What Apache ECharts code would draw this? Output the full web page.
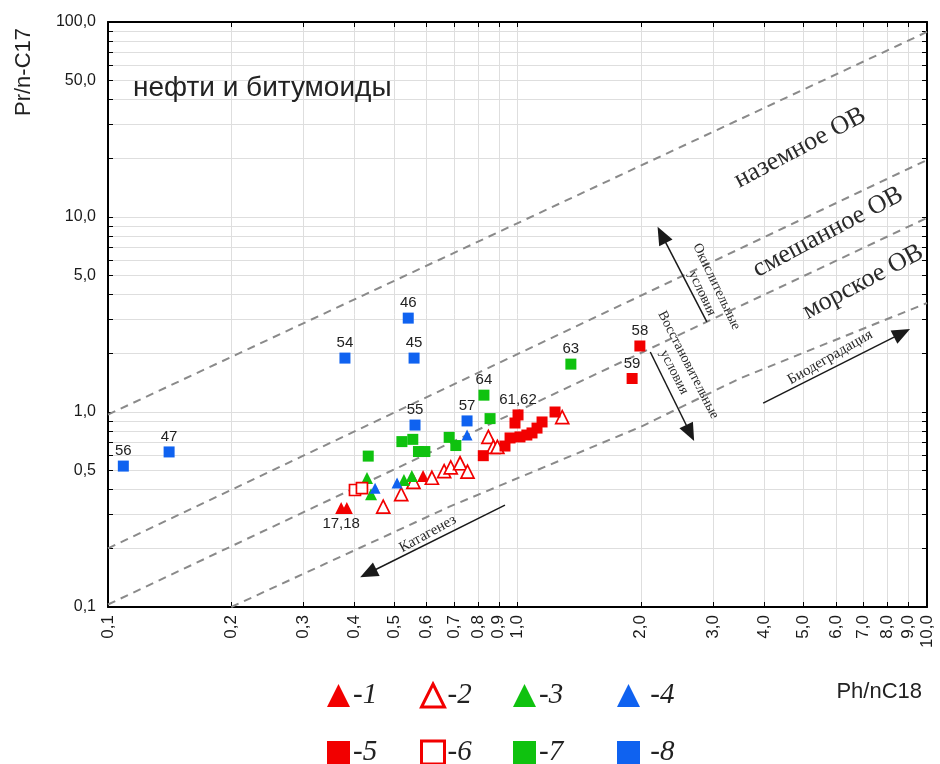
<!DOCTYPE html>
<html><head><meta charset="utf-8">
<script src="https://cdn.jsdelivr.net/npm/echarts@6/dist/echarts.min.js"></script>
<style>html,body{margin:0;padding:0;background:#fff}#c{width:940px;height:764px}</style>
</head><body><div id="c"></div>
<script>
// ---- tick labels ----
const xLabelVals = [0.1,0.2,0.3,0.4,0.5,0.6,0.7,0.8,0.9,1,2,3,4,5,6,7,8,9,10];
const yLabelVals = [0.1,0.5,1,5,10,50,100];
const xTickVals = [0.1,0.2,0.3,0.4,0.5,0.6,0.7,0.8,0.9,1,2,3,4,5,6,7,8,9,10];
const yTickVals = [0.1,0.2,0.3,0.4,0.5,0.6,0.7,0.8,0.9,1,2,3,4,5,6,7,8,9,10,20,30,40,50,60,70,80,90,100];

// ---- series (Ph/nC18, Pr/n-C17) ----
const seriesNames = ['-1','-2','-3','-4','-5','-6','-7','-8'];
const s1 = [[0.371,0.322],[0.383,0.322],[0.588,0.47]];
const s1Labels = ['17,18','',''];
const s2 = [[0.47,0.327],[0.52,0.379],[0.557,0.438],[0.618,0.46],[0.662,0.497],[0.687,0.52],[0.724,0.546],[0.755,0.494],[0.849,0.745],[0.873,0.662],[0.893,0.662],[1.286,0.942]];
const s3 = [[0.429,0.459],[0.439,0.379],[0.528,0.448],[0.552,0.47]];
const s4 = [[0.449,0.407],[0.508,0.433],[0.753,0.762]];
const s5 = [[0.825,0.597],[0.932,0.669],[0.959,0.736],[0.986,0.878],[1.003,0.966],[1.014,0.745],[1.054,0.762],[1.085,0.781],[1.116,0.827],[1.148,0.889],[1.235,1.0],[1.99,2.18],[1.905,1.485]];
const s5Labels = ['','','','','61,62','','','','','','','58','59'];
const s6 = [[0.401,0.398],[0.417,0.407]];
const s7 = [[0.432,0.594],[0.522,0.705],[0.555,0.724],[0.573,0.627],[0.594,0.627],[0.681,0.741],[0.707,0.673],[0.828,1.22],[0.857,0.925],[1.35,1.76]];
const s7Labels = ['','','','','','','','64','','63'];
const s8 = [[0.109,0.528],[0.141,0.624],[0.379,1.89],[0.541,3.03],[0.559,1.89],[0.562,0.857],[0.753,0.9]];
const s8Labels = ['56','47','54','46','45','55','57'];

// ---- boundary lines ----
const lineA = [[0.1,0.97],[10,89]];
const lineB = [[0.1,0.2],[10,19.6]];
const lineC = [[0.1,0.103],[10,9.9]];
const lineD = [[0.2,0.1],[0.68,0.326],[2.0,0.84],[3.5,1.49],[10,3.62]];

// ---- arrows (start, end) ----
const arrowOx = [[2.9,2.9],[2.25,8.1]];
const arrowRed = [[2.11,2.03],[2.64,0.78]];
const arrowBio = [[3.98,1.11],[8.69,2.54]];
const arrowKat = [[0.932,0.333],[0.432,0.149]];

const RED = '#f20000', GREEN = '#0fc20f', BLUE = '#0f62f0';
const fmt = v => (Math.round(v*10)/10).toFixed(1).replace('.', ',');
const SANS = '"Liberation Sans", Arial, sans-serif';
const SERIF = '"Liberation Serif", "Times New Roman", serif';

function pts(arr, labels, pos) {
  return arr.map((p, i) => {
    const o = {value: p};
    if (labels && labels[i]) {
      o.label = {show: true, formatter: labels[i], position: pos || 'top', distance: 2,
        fontFamily: SANS, fontSize: 15, color: '#222'};
    }
    return o;
  });
}

const chart = echarts.init(document.getElementById('c'), null, {renderer: 'canvas'});

function scat(name, data, symbol, size, color, hollow) {
  return {
    name, type: 'scatter', data, symbol, symbolSize: size, z: 5,
    itemStyle: hollow ? {color: '#fff', borderColor: color, borderWidth: 1.7, opacity: 1} : {color, opacity: 1},
    emphasis: {disabled: true}
  };
}
function dash(data, extra) {
  return Object.assign({
    type: 'line', data, showSymbol: false, symbol: 'none', silent: true, z: 3,
    lineStyle: {color: '#8a8a8a', width: 2, type: [8, 6]}
  }, extra || {});
}

const axisCommon = {
  type: 'log', logBase: 10,
  axisLine: {show: true, lineStyle: {color: '#000', width: 2}},
};

const legendLeft = [327, 420, 513, 617];
const legendTop = [681, 738];
const legendIcons = ['triangle','triangle','triangle','triangle','rect','rect','rect','rect'];
const legendColors = [RED, RED, GREEN, BLUE, RED, RED, GREEN, BLUE];
const legendHollow = [false, true, false, false, false, true, false, false];
const legends = seriesNames.map((n, i) => ({
  data: [n], left: legendLeft[i % 4], top: legendTop[Math.floor(i / 4)],
  icon: legendIcons[i], itemWidth: 23, itemHeight: 23, padding: 0, itemGap: 0,
  selectedMode: false,
  formatter: (i % 4 === 3) ? (nm => '\u00a0' + nm) : (nm => nm),
  itemStyle: legendHollow[i] ? {color: '#fff', borderColor: legendColors[i], borderWidth: 3}
                             : {color: legendColors[i], borderWidth: 0, opacity: 1},
  textStyle: {fontFamily: SERIF, fontStyle: 'italic', fontSize: 29, color: '#222', lineHeight: 23, padding: [0,0,0,-2]}
}));

const option = {
  animation: false,
  backgroundColor: '#fff',
  grid: {left: 108, right: 13, top: 22, bottom: 157},
  legend: legends,
  xAxis: [
    Object.assign({}, axisCommon, {
      min: 0.1, max: 10, position: 'bottom',
      axisTick: {show: true, inside: true, length: 5, customValues: xTickVals, lineStyle: {color: '#000'}},
      axisLabel: {show: true, customValues: xLabelVals, rotate: 90, margin: 8, formatter: fmt,
        fontFamily: SANS, fontSize: 17, color: '#1a1a1a'},
      splitLine: {show: true, lineStyle: {color: '#dedede', width: 1}}
    }),
    Object.assign({}, axisCommon, {
      min: 0.1, max: 10, position: 'top',
      axisTick: {show: true, inside: true, length: 5, customValues: xTickVals, lineStyle: {color: '#000'}},
      axisLabel: {show: false}, splitLine: {show: false}
    })
  ],
  yAxis: [
    Object.assign({}, axisCommon, {
      min: 0.1, max: 100, position: 'left',
      axisTick: {show: true, inside: true, length: 5, customValues: yTickVals, lineStyle: {color: '#000'}},
      axisLabel: {show: true, customValues: yLabelVals, margin: 12, formatter: fmt,
        fontFamily: SANS, fontSize: 16, color: '#1a1a1a'},
      splitLine: {show: true, lineStyle: {color: '#dedede', width: 1}}
    }),
    Object.assign({}, axisCommon, {
      min: 0.1, max: 100, position: 'right',
      axisTick: {show: true, inside: true, length: 5, customValues: yTickVals, lineStyle: {color: '#000'}},
      axisLabel: {show: false}, splitLine: {show: false}
    })
  ],
  series: [
    dash(lineA, {
      markLine: {
        silent: true, animation: false, symbol: ['none', 'triangle'], symbolSize: [15, 18],
        label: {show: false},
        lineStyle: {color: '#1a1a1a', width: 1.5, type: 'solid'},
        data: [
          [{coord: arrowOx[0]}, {coord: arrowOx[1]}],
          [{coord: arrowRed[0]}, {coord: arrowRed[1]}],
          [{coord: arrowBio[0]}, {coord: arrowBio[1]}],
          [{coord: arrowKat[0]}, {coord: arrowKat[1]}]
        ]
      }
    }),
    dash(lineB), dash(lineC), dash(lineD),
    scat(seriesNames[0], pts(s1, s1Labels, 'bottom'), 'triangle', 12, RED, false),
    scat(seriesNames[1], pts(s2), 'triangle', 13, RED, true),
    scat(seriesNames[2], pts(s3), 'triangle', 12, GREEN, false),
    scat(seriesNames[3], pts(s4), 'triangle', 11, BLUE, false),
    scat(seriesNames[4], pts(s5, s5Labels), 'rect', 11, RED, false),
    scat(seriesNames[5], pts(s6), 'rect', 11, RED, true),
    scat(seriesNames[6], pts(s7, s7Labels), 'rect', 11, GREEN, false),
    scat(seriesNames[7], pts(s8, s8Labels), 'rect', 11, BLUE, false)
  ]
};
chart.setOption(option);

// ---- annotation texts anchored in data coordinates ----
const annos = [
  {t: 'наземное ОВ', at: [4.9, 22.6], rot: 28, font: '26px ' + SERIF},
  {t: 'смешанное ОВ', at: [5.73, 8.37], rot: 28, font: '26px ' + SERIF},
  {t: 'морское ОВ', at: [6.98, 4.64], rot: 28, font: '26px ' + SERIF},
  {t: 'Биодеградация', at: [5.8, 1.91], rot: 30, font: '15px ' + SERIF},
  {t: 'Катагенез', at: [0.604, 0.237], rot: 29, font: '15px ' + SERIF},
  {t: 'Окислительные\nусловия', at: [2.94, 4.22], rot: -64.5, font: '14px ' + SERIF},
  {t: 'Восстановительные\nусловия', at: [2.51, 1.67], rot: -63, font: '14px ' + SERIF}
];
const graphics = annos.map(a => {
  const p = chart.convertToPixel({xAxisIndex: 0, yAxisIndex: 0}, a.at);
  return {type: 'text', x: p[0], y: p[1], rotation: a.rot * Math.PI / 180, silent: true, z: 10,
    style: {text: a.t, font: a.font, fill: '#2a2a2a', align: 'center', verticalAlign: 'middle', lineHeight: 16}};
});
graphics.push(
  {type: 'text', x: 133, y: 88, silent: true,
   style: {text: 'нефти и битумоиды', font: '28px ' + SANS, fill: '#222', align: 'left', verticalAlign: 'middle'}},
  {type: 'text', x: 24, y: 72, rotation: Math.PI / 2, silent: true,
   style: {text: 'Pr/n-C17', font: '22px ' + SANS, fill: '#222', align: 'center', verticalAlign: 'middle'}},
  {type: 'text', x: 922, y: 692, silent: true,
   style: {text: 'Ph/nC18', font: '22px ' + SANS, fill: '#222', align: 'right', verticalAlign: 'middle'}}
);
chart.setOption({graphic: graphics});
</script></body></html>
